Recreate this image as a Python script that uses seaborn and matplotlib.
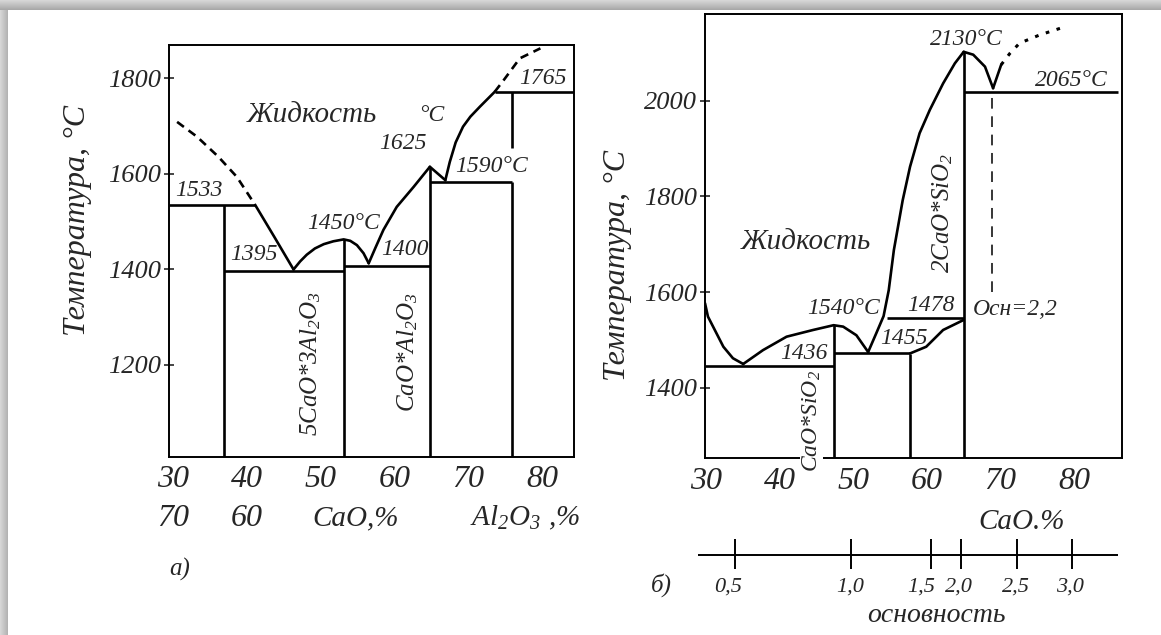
import matplotlib
matplotlib.use("Agg")
import matplotlib.pyplot as plt
from matplotlib.patches import Rectangle
import seaborn as sns

# ==============================================================================
# ДАННЫЕ
# ==============================================================================
# --- а) CaO - Al2O3 ---
A_TICKS_X = [30, 40, 50, 60, 70, 80]
A_TICKS_AL2O3 = ["70", "60"]
A_TICKS_Y = [1200, 1400, 1600, 1800]

A_LIQ1_DASH_X = [30.5, 33.2, 36.1, 38.6, 41.1]
A_LIQ1_DASH_Y = [1709, 1678, 1636, 1594, 1535]
A_LIQ1_X = [41.1, 43.7, 46.3]
A_LIQ1_Y = [1535, 1468, 1400]
A_DOME1_X = [46.3, 47.2, 48.1, 49.2, 50.4, 51.7, 53.1, 54.0, 54.9, 55.8, 56.5]
A_DOME1_Y = [1400, 1417, 1431, 1444, 1453, 1459, 1463, 1460, 1451, 1434, 1413]
A_LIQ2_X = [56.5, 57.4, 58.5, 60.3, 62.6, 64.8]
A_LIQ2_Y = [1413, 1445, 1483, 1531, 1573, 1615]
A_DOME2_X = [64.8, 66.9]
A_DOME2_Y = [1615, 1587]
A_LIQ3_X = [66.9, 67.5, 68.3, 69.3, 70.3, 71.6, 73.6]
A_LIQ3_Y = [1587, 1625, 1666, 1699, 1720, 1741, 1772]
A_LIQ3_DASH_X = [73.6, 74.8, 77.0, 79.8]
A_LIQ3_DASH_Y = [1772, 1796, 1842, 1863]

# горизонтали (солидус / эвтектики)
A_HL_Y = [1535, 1397, 1407, 1584, 1771]
A_HL_X0 = [29.4, 36.8, 53.1, 64.8, 73.6]
A_HL_X1 = [41.1, 53.1, 64.8, 75.9, 84.4]
# вертикали (соединения)
A_VL_X = [36.8, 53.1, 64.8, 75.9, 75.9]
A_VL_Y0 = [1008, 1008, 1008, 1008, 1655]
A_VL_Y1 = [1535, 1463, 1615, 1584, 1771]

A_LABELS = [
    ("1533", 33.4, 1566), ("1395", 40.9, 1432), ("1450°C", 53.1, 1497),
    ("1400", 61.4, 1441), ("1625", 61.2, 1664), ("°C", 65.1, 1722),
    ("1590°C", 73.2, 1615), ("1765", 80.2, 1800),
]

# --- б) CaO - SiO2 ---
B_TICKS_X = [30, 40, 50, 60, 70, 80]
B_TICKS_Y = [1400, 1600, 1800, 2000]

B_LEFT_X = [29.8, 30.2, 30.9, 32.3, 33.6, 35.0]
B_LEFT_Y = [1577, 1549, 1528, 1486, 1462, 1450]
B_DOME_X = [35.0, 37.7, 40.9, 44.5, 47.3, 48.6, 50.4, 52.0]
B_DOME_Y = [1450, 1479, 1507, 1521, 1531, 1528, 1510, 1475]
B_LIQ_X = [52.0, 53.1, 54.1, 54.8, 55.5, 56.7, 57.7, 59.0, 60.4, 62.2, 63.8, 65.0]
B_LIQ_Y = [1475, 1514, 1550, 1604, 1688, 1792, 1862, 1932, 1981, 2036, 2078, 2102]
B_PEAK_X = [65.0, 66.3, 67.9, 69.0]
B_PEAK_Y = [2102, 2096, 2071, 2026]
B_LIQ_R_X = [69.0, 70.1]
B_LIQ_R_Y = [2026, 2075]
B_LIQ_R_DASH_X = [70.1, 71.3, 72.6, 75.3, 78.1]
B_LIQ_R_DASH_Y = [2075, 2099, 2120, 2137, 2151]
B_STEP_X = [57.7, 59.9, 62.2, 65.0]
B_STEP_Y = [1472, 1486, 1521, 1542]

B_HL_Y = [1446, 1472, 1545, 2019]
B_HL_X0 = [29.8, 47.3, 54.5, 65.0]
B_HL_X1 = [47.3, 57.7, 65.0, 86.0]
B_VL_X = [47.3, 57.7, 65.0]
B_VL_Y0 = [1253, 1253, 1253]
B_VL_Y1 = [1531, 1471, 2102]
B_OSN_X = 68.9          # основность 2,2
B_OSN_Y = [1601, 2019]

B_LABELS = [
    ("2130°C", 65.4, 2127), ("2065°C", 79.7, 2043), ("1540°C", 48.6, 1566),
    ("1478", 60.5, 1573), ("Осн=2,2", 72.0, 1563), ("1455", 56.8, 1503),
    ("1436", 43.2, 1472),
]

# шкала основности (положение на оси CaO, %)
BASICITY = ["0,5", "1,0", "1,5", "2,0", "2,5", "3,0"]
BASICITY_AT_CAO = [33.85, 49.7, 60.6, 64.6, 72.3, 79.7]
BASICITY_LABEL_AT = [32.9, 49.5, 59.2, 64.4, 72.1, 79.5]

# ==============================================================================
# ОФОРМЛЕНИЕ
# ==============================================================================
sns.set_theme(style="white")
plt.rcParams["font.family"] = ["Liberation Serif", "DejaVu Serif"]
plt.rcParams["font.style"] = "italic"
plt.rcParams["mathtext.fontset"] = "custom"
plt.rcParams["mathtext.it"] = "Liberation Serif:italic"
plt.rcParams["mathtext.rm"] = "Liberation Serif:italic"
plt.rcParams["mathtext.default"] = "it"

W, H = 1161, 635
LW = 1.9
fig = plt.figure(figsize=(W / 100, H / 100), dpi=100)
fig.patch.set_facecolor("white")

# тень по краю скана
for i in range(10):
    g = 0.84 - 0.02 * i
    fig.add_artist(Rectangle((0, 1 - (i + 1) / H), 1, 1 / H, transform=fig.transFigure,
                             color=(g, g, g), lw=0, zorder=-5))
for i in range(8):
    g = 0.84 - 0.02 * i
    fig.add_artist(Rectangle((i / W, 0), 1 / W, 1 - 10 / H, transform=fig.transFigure,
                             color=(g, g, g), lw=0, zorder=-5))


def px_axes(left, top, right, bottom):
    return fig.add_axes([left / W, 1 - bottom / H, (right - left) / W, (bottom - top) / H])


def curve(ax, xs, ys, dashes=None, lw=LW):
    line_kw = dict(color="black", lw=lw, sort=False, estimator=None, ax=ax, legend=False)
    if dashes:
        line_kw["linestyle"] = (0, dashes)
    sns.lineplot(x=xs, y=ys, **line_kw)


def style_axes(ax, xlim, ylim, yticks, xticks):
    ax.set_xlim(xlim)
    ax.set_ylim(ylim)
    ax.set_xticks(xticks)
    ax.set_xticklabels([str(v) for v in xticks], fontsize=23)
    ax.set_yticks(yticks)
    ax.set_yticklabels([str(v) for v in yticks], fontsize=19)
    ax.tick_params(axis="x", length=0, pad=6)
    ax.tick_params(axis="y", direction="inout", length=7, width=1.2, pad=2, left=True)
    for sp in ax.spines.values():
        sp.set_visible(True)
        sp.set_color("black")
        sp.set_linewidth(1.4)
    ax.set_xlabel("")
    ax.set_ylabel("")
    ax.grid(False)


# ==============================================================================
# а)
# ==============================================================================
ax = px_axes(169, 45, 574.3, 456.7)
curve(ax, A_LIQ1_DASH_X, A_LIQ1_DASH_Y, dashes=(3.2, 2.2))
curve(ax, A_LIQ1_X, A_LIQ1_Y)
curve(ax, A_DOME1_X, A_DOME1_Y)
curve(ax, A_LIQ2_X, A_LIQ2_Y)
curve(ax, A_DOME2_X, A_DOME2_Y)
curve(ax, A_LIQ3_X, A_LIQ3_Y)
curve(ax, A_LIQ3_DASH_X, A_LIQ3_DASH_Y, dashes=(3.2, 2.2))
ax.hlines(A_HL_Y, A_HL_X0, A_HL_X1, color="black", lw=LW)
ax.vlines(A_VL_X, A_VL_Y0, A_VL_Y1, color="black", lw=LW)
style_axes(ax, (29.4, 84.4), (1008, 1870), A_TICKS_Y, A_TICKS_X)

for txt, x, y in A_LABELS:
    ax.text(x, y, txt, fontsize=17, ha="center", va="center")
ax.text(48.8, 1723, "Жидкость", fontsize=21, ha="center", va="center")
ax.text(48.6, 1203, "5CaO*3Al$_2$O$_3$", fontsize=18, rotation=90, ha="center", va="center")
ax.text(61.8, 1227, "CaO*Al$_2$O$_3$", fontsize=18, rotation=90, ha="center", va="center")

xt = ax.get_xaxis_transform()
for v, lab in zip(A_TICKS_X[:2], A_TICKS_AL2O3):
    ax.text(v, -0.149, lab, transform=xt, fontsize=23, ha="center", va="center")
ax.text(54.7, -0.149, "CaO,%", transform=xt, fontsize=21, ha="center", va="center")
ax.text(70.3, -0.149, "Al$_2$O$_3$ ,%", transform=xt, fontsize=21, ha="left", va="center")
ax.text(30.9, -0.275, "а)", transform=xt, fontsize=18, ha="center", va="center")
ax.text(-0.226, 0.575, "Температура, °C", transform=ax.transAxes, fontsize=23,
        rotation=90, ha="center", va="center")

# ==============================================================================
# б)
# ==============================================================================
bx = px_axes(705, 14, 1121.7, 458.3)
curve(bx, B_LEFT_X, B_LEFT_Y)
curve(bx, B_DOME_X, B_DOME_Y)
curve(bx, B_LIQ_X, B_LIQ_Y)
curve(bx, B_PEAK_X, B_PEAK_Y)
curve(bx, B_LIQ_R_X, B_LIQ_R_Y)
curve(bx, B_LIQ_R_DASH_X, B_LIQ_R_DASH_Y, dashes=(1.2, 2.5), lw=2.2)
curve(bx, B_STEP_X, B_STEP_Y)
bx.hlines(B_HL_Y, B_HL_X0, B_HL_X1, color="black", lw=LW)
bx.vlines(B_VL_X, B_VL_Y0, B_VL_Y1, color="black", lw=LW)
bx.vlines([B_OSN_X], B_OSN_Y[0], B_OSN_Y[1], color="black", lw=1.1, linestyles=(0, (7, 5)))
style_axes(bx, (29.8, 86.5), (1253, 2181), B_TICKS_Y, B_TICKS_X)

for txt, x, y in B_LABELS:
    bx.text(x, y, txt, fontsize=17, ha="center", va="center")
bx.text(43.5, 1705, "Жидкость", fontsize=21, ha="center", va="center")
bx.text(62.2, 1765, "2CaO*SiO$_2$", fontsize=18, rotation=90, ha="center", va="center")
bx.text(44.3, 1330, "CaO*SiO$_2$", fontsize=17, rotation=90, ha="center", va="center",
        bbox=dict(facecolor="white", edgecolor="none", pad=0.5), zorder=5)
bx.text(72.9, -0.1427, "CaO.%", transform=bx.get_xaxis_transform(), fontsize=21,
        ha="center", va="center")
bx.text(-0.211, 0.433, "Температура, °C", transform=bx.transAxes, fontsize=23,
        rotation=90, ha="center", va="center")

# шкала основности
cx = px_axes(705, 540, 1121.7, 570)
cx.set_xlim(29.8, 86.5)
cx.set_ylim(-1, 1)
cx.axis("off")
cx.hlines([0], [28.86], [86.0], color="black", lw=1.4, clip_on=False)
cx.vlines(BASICITY_AT_CAO, -0.9, 1.1, color="black", lw=1.4, clip_on=False)
for v, lab in zip(BASICITY_LABEL_AT, BASICITY):
    cx.text(v, -2.11, lab, fontsize=16, ha="center", va="center")
cx.text(61.3, -4.0, "основность", fontsize=20, ha="center", va="center")
cx.text(23.9, -2.0, "б)", fontsize=18, ha="center", va="center")

fig.savefig("out.png", dpi=100, facecolor=fig.get_facecolor())
